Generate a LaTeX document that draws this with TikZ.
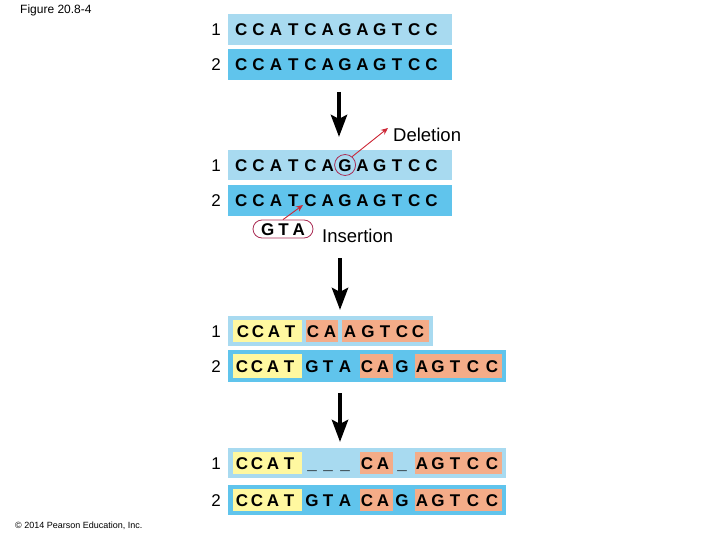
\documentclass[tikz,border=0pt]{standalone}
\usepackage{fontspec}
\setmainfont{Liberation Sans}
\usetikzlibrary{arrows.meta,shapes.misc}
\definecolor{lightbl}{RGB}{168,218,240}
\definecolor{darkbl}{RGB}{96,196,236}
\definecolor{hiyel}{RGB}{255,248,160}
\definecolor{hiorg}{RGB}{244,172,136}
\definecolor{delred}{RGB}{205,40,55}
\definecolor{ringred}{RGB}{170,45,85}
\tikzset{
  nt/.style={font=\fontsize{17}{19}\selectfont\bfseries, inner sep=0pt, text height=12.2pt, text depth=0pt},
  num/.style={font=\fontsize{17}{19}\selectfont, inner sep=0pt, text height=12.2pt, text depth=0pt},
  lab/.style={font=\fontsize{18.5}{20}\selectfont, inner sep=0pt, anchor=west},
  bigarrow/.style={line width=4.5pt, -{Stealth[length=22pt,width=16pt,inset=4pt]}},
  redarrow/.style={delred, line width=0.9pt, -{Stealth[length=7pt,width=6pt]}},
}
\begin{document}
\begin{tikzpicture}[x=1pt, y=-1pt]
\useasboundingbox (0,0) rectangle (720,540);
% strands
\fill[lightbl] (228,14) rectangle (452,45);
\fill[darkbl] (228,49) rectangle (452,80);
\fill[lightbl] (228,150) rectangle (452,180);
\fill[darkbl] (228,185) rectangle (452,216);
\fill[lightbl] (228,316) rectangle (433,346);
\fill[darkbl] (228,350) rectangle (506,382);
\fill[lightbl] (228,448) rectangle (506,478);
\fill[darkbl] (228,485) rectangle (506,515);
% highlights
\fill[hiyel] (233,320) rectangle (302,342);
\fill[hiorg] (306,320) rectangle (338,342);
\fill[hiorg] (342,320) rectangle (429,342);
\foreach \ya/\yb in {354/378,452/474,489/511}{
  \fill[hiyel] (233,\ya) rectangle (302,\yb);
  \fill[hiorg] (360,\ya) rectangle (393,\yb);
  \fill[hiorg] (415,\ya) rectangle (502,\yb);
}
% bases
\foreach \y/\r in {29.5/a,64.5/b,165/c,200/d}
  \foreach \b [count=\i] in {C,C,A,T,C,A,G,A,G,T,C,C}
    \node[nt] (\r\i) at ({224+17.3*\i},\y) {\b};
\foreach \x/\b [count=\i] in {243/C,258/C,274/A,290/T,313/C,330/A,350/A,368/G,385/T,402/C,418/C}
  \node[nt] (e\i) at (\x,331) {\b};
\foreach \x/\b [count=\i] in {242/C,257/C,273/A,289/T,312/G,328/T,345/A,367/C,383/A,402/G,422/A,438/G,455/T,473/C,492/C}{
  \node[nt] (f\i) at (\x,366) {\b};
  \node[nt] (h\i) at (\x,500) {\b};
}
\foreach \x/\b [count=\i] in {242/C,257/C,273/A,289/T,312/\_,328/\_,345/\_,367/C,383/A,402/\_,422/A,438/G,455/T,473/C,492/C}
  \node[nt] (g\i) at (\x,463) {\b};
% strand numbers
\foreach \y/\k [count=\i] in {29.5/1,64.5/2,165/1,200/2,331/1,366/2,463/1,500/2}
  \node[num] (n\i) at (216,\y) {\k};
% steps
\coordinate (s1) at (339,92); \coordinate (t1) at (339,137);
\coordinate (s2) at (340,258); \coordinate (t2) at (340,310);
\coordinate (s3) at (340,393); \coordinate (t3) at (340,442);
\draw[bigarrow] (s1) -- (t1);
\draw[bigarrow] (s2) -- (t2);
\draw[bigarrow] (s3) -- (t3);
% deletion and insertion
\node[lab] (dl) at (393,135) {Deletion};
\node[draw=ringred, line width=0.8pt, circle, minimum size=21pt, inner sep=0pt] (ring) at (c7) {};
\draw[redarrow] (ring.50) -- ([xshift=-5pt]dl.north west);
\node[nt, draw=ringred, line width=0.8pt, rounded rectangle, minimum width=60pt, minimum height=18pt] (gta) at (283,229) {G\hspace{4pt}T\hspace{4pt}A};
\node[lab] (il) at (322,236) {Insertion};
\coordinate (ins) at (303,205);
\draw[redarrow] (gta.north) -- (ins);
% captions
\node[font=\fontsize{12}{14}\selectfont, inner sep=0pt, anchor=west] (fig) at (20,10) {Figure 20.8-4};
\node[font=\fontsize{9}{11}\selectfont, inner sep=0pt, anchor=west] (copy) at (15,526) {\textcopyright{} 2014 Pearson Education, Inc.};
\end{tikzpicture}
\end{document}
